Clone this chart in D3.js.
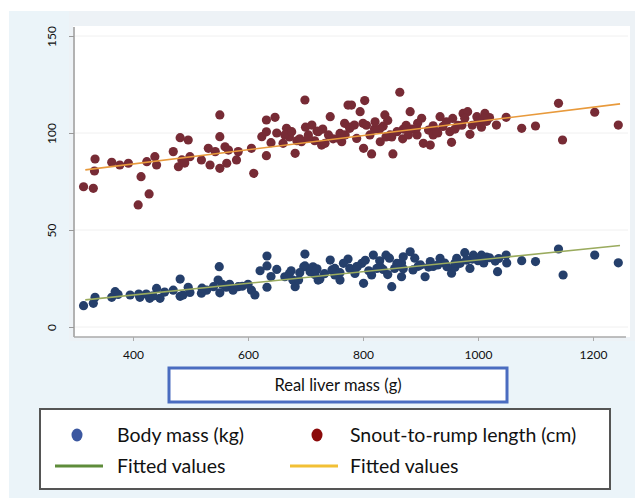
<html>
<head>
<meta charset="utf-8">
<script src="https://d3js.org/d3.v7.min.js"></script>
<style>
  body { margin:0; background:#fff; }
  text { font-family: Lato, "Open Sans", sans-serif; fill:#111; }
</style>
</head>
<body>
<svg id="chart" width="635" height="498"></svg>
<script>
// snout-to-rump length (cm) vs real liver mass (g)
var srlMass = [314,331,334,333,363,377,392,414,409,428,424,438,441,470,479,482,496,485,499,490,
  519,531,534,543,551,551,551,560,566,563,580,583,606,610,632,647,632,624,632,661,667,672,682,685,
  699,705,711,716,728,730,743,740,748,760,763,774,777,768,640,650,690,700,720,
  780,803,864,795,785,789,801,815,852,838,835,843,829,812,830,859,869,882,885,894,902,905,917,914,
  922,934,939,951,954,956,965,974,982,986,998,1006,1012,1015,1032,1049,1076,1100,1140,1147,1203,1244,
  800,820,850,875,895,930,960,990,1000,1020,922,840,870,
  664,676,693,705,722,734,757,769,777,806,821,847,879,893,928,945,972,977,1001,1009];
var srlLength = [72.3,71.5,86.6,80.4,84.9,83.5,84.4,77.5,62.9,68.6,85.2,87.8,83.5,90.4,82.6,97.6,96.4,86.1,87.8,84.5,
  86.1,92.1,83.5,90.4,109.3,98.1,81.8,92.9,91.2,84.4,86.1,90.4,92.1,79.2,106.7,108.1,88.3,98.1,100.6,94.7,102.4,98,89.5,96,
  117,99,104.1,96,93.8,102,108.4,99,97,99.8,95.5,114.4,103,105,95,100,97,103,101,
  114.4,116.7,121,111,104.1,97.2,92.1,89.2,89.2,109.3,103.5,106.5,102,99,95.5,100.7,97,111,102,99,107.6,94.7,93.8,101.5,
  103.7,108.4,103.4,100.7,95.2,107.5,104,110.1,111,99.3,108.4,103,110.1,106,104.1,108.1,102.4,103.6,115.3,96.4,110.7,104.1,
  105,102,98,104,105,100,102,104,106,108,99,98,102,
  99,100.7,95.5,97.3,100.7,94.7,97.3,99,102.4,104,105.8,99,99,102.4,100.7,105.8,104,107.6,105.8,107.6];

// body mass (kg) vs real liver mass (g)
var bmMass = [314,331,334,363,369,374,395,412,423,431,441,447,429,470,482,482,487,496,499,519,528,540,548,550,551,
  562,568,574,583,606,612,621,633,633,633,650,664,672,675,678,682,688,699,699,711,716,722,
  697,708,713,725,733,743,746,751,760,774,777,786,798,801,804,815,818,829,835,843,850,840,846,855,867,882,867,
  890,896,908,914,922,934,942,954,960,963,977,986,992,1000,1006,1015,1020,1034,1036,1049,1050,1076,1100,1140,1148,1203,1244,
  720,760,790,810,830,870,900,930,960,990,1010,1030,410,435,455,520,555,590,600,640,690,
  719,751,766,789,824,859,870,887,917,946,969,980,1009];
var bodyMass = [11,12.2,15.3,15.3,18.2,16.8,16.5,15.3,17,15.8,19.9,14.8,14.8,19,24.7,15.8,16.5,20.5,17.8,17.4,19,20.8,24.2,31.1,17.6,
  20.5,22,19,20.8,19,16.5,29,36.6,20.5,31.5,29.7,25.9,27.6,29,24.2,20.8,24.2,37.6,31.5,29,27,24.2,
  31,28.5,31,24.7,27.5,34.5,29.4,30.2,24.2,35,30.2,27.6,32.8,22.5,34.4,26.8,37.1,34.1,29.7,27,20.8,37,35.5,30.2,33,38.8,25.9,
  35.5,31.3,25.9,30.9,31.2,35.4,33,27.7,30.8,35.4,38.3,30.2,37,34.2,37,36,35.7,28.5,35.3,37.1,33,34.2,33.7,40.2,26.8,37.1,33.1,
  30,28,31,29,31,30,32,32,33,35,33,34,17,16,18,20,22,21,22,26,28,
  29.4,26.8,32.8,31.1,30.2,32.8,36.2,29.4,33.7,31.1,32.8,34.5,34.5];

// fitted values (line ends)
var fitMass = [317, 1247];
var fitLength = [81, 115];
var fitBody = [14, 42];

var xTicks = [400, 600, 800, 1000, 1200];
var yTicks = [0, 50, 100, 150];

var svg = d3.select("#chart");

// backgrounds
svg.append("rect").attr("x", 9).attr("y", 11).attr("width", 626).attr("height", 487).attr("fill", "#ebf4f9");
svg.append("rect").attr("x", 69).attr("y", 11).attr("width", 566).attr("height", 330).attr("fill", "#edf2f6");
svg.append("rect").attr("x", 73).attr("y", 26).attr("width", 557).attr("height", 311).attr("fill", "#fff");

var x = d3.scaleLinear().domain([400, 1200]).range([133, 593]);
var y = d3.scaleLinear().domain([0, 150]).range([327, 36]);

// grid
svg.selectAll("line.grid").data(yTicks).enter().append("line")
  .attr("class", "grid")
  .attr("x1", 75).attr("x2", 628)
  .attr("y1", function(d) { return y(d); }).attr("y2", function(d) { return y(d); })
  .attr("stroke", "#f0f0f0");

// axes
var yAxis = svg.append("g").attr("transform", "translate(74,0)")
  .call(d3.axisLeft(y).tickValues(yTicks).tickSize(5));
yAxis.select(".domain").remove();
yAxis.append("line").attr("x1", 0).attr("x2", 0).attr("y1", 27).attr("y2", 337)
  .attr("stroke", "#999").attr("stroke-width", 1.5);
yAxis.selectAll(".tick line").attr("stroke", "#999");
yAxis.selectAll(".tick text")
  .attr("x", 0).attr("dy", "0.35em")
  .attr("transform", "translate(-22,0) rotate(-90)")
  .attr("text-anchor", "middle")
  .style("font-size", "12px").style("font-family", "Lato, sans-serif").attr("fill", "#111");

var xAxis = svg.append("g").attr("transform", "translate(0,337)")
  .call(d3.axisBottom(x).tickValues(xTicks).tickSize(4).tickPadding(9).tickFormat(d3.format("d")));
xAxis.select(".domain").remove();
xAxis.append("line").attr("x1", 74).attr("x2", 626).attr("y1", 0).attr("y2", 0)
  .attr("stroke", "#aaa").attr("stroke-width", 1.5);
xAxis.selectAll(".tick line").attr("stroke", "#aaa");
xAxis.selectAll(".tick text")
  .style("font-size", "12px").style("font-family", "Lato, sans-serif").attr("fill", "#111");

// points
svg.append("g").selectAll("circle").data(srlMass).enter().append("circle")
  .attr("cx", function(d) { return x(d); })
  .attr("cy", function(d, i) { return y(srlLength[i]); })
  .attr("r", 4.6).attr("fill", "#772b35");

svg.append("g").selectAll("circle").data(bmMass).enter().append("circle")
  .attr("cx", function(d) { return x(d); })
  .attr("cy", function(d, i) { return y(bodyMass[i]); })
  .attr("r", 4.6).attr("fill", "#253f6b");

// fitted lines
var line = d3.line().x(function(d) { return x(d[0]); }).y(function(d) { return y(d[1]); });
svg.append("path").attr("d", line(d3.zip(fitMass, fitLength)))
  .attr("stroke", "#e89a3c").attr("stroke-width", 1.6).attr("fill", "none");
svg.append("path").attr("d", line(d3.zip(fitMass, fitBody)))
  .attr("stroke", "#9aab5e").attr("stroke-width", 1.6).attr("fill", "none");

// x axis title box
svg.append("rect").attr("x", 169).attr("y", 368).attr("width", 338).attr("height", 34)
  .attr("fill", "#fff").attr("stroke", "#4a6cc0").attr("stroke-width", 3);
svg.append("text").attr("x", 338).attr("y", 385).attr("dy", "0.35em")
  .attr("text-anchor", "middle").style("font-size", "16.5px").text("Real liver mass (g)");

// legend
svg.append("rect").attr("x", 40).attr("y", 409).attr("width", 570).attr("height", 80)
  .attr("fill", "#fff").attr("stroke", "#555").attr("stroke-width", 2);

var legend = svg.append("g").style("font-size", "19.5px");
legend.append("ellipse").attr("cx", 77).attr("cy", 435).attr("rx", 5.5).attr("ry", 6.5).attr("fill", "#3b57a0");
legend.append("text").attr("x", 117).attr("y", 435).attr("dy", "0.35em").text("Body mass (kg)");
legend.append("ellipse").attr("cx", 317).attr("cy", 435).attr("rx", 5.5).attr("ry", 6.5).attr("fill", "#8b0a0a");
legend.append("text").attr("x", 350).attr("y", 435).attr("dy", "0.35em").text("Snout-to-rump length (cm)");
legend.append("line").attr("x1", 55).attr("x2", 103).attr("y1", 466).attr("y2", 466).attr("stroke", "#5e8c3a").attr("stroke-width", 3);
legend.append("text").attr("x", 117).attr("y", 466).attr("dy", "0.35em").text("Fitted values");
legend.append("line").attr("x1", 290).attr("x2", 338).attr("y1", 466).attr("y2", 466).attr("stroke", "#f2c035").attr("stroke-width", 3);
legend.append("text").attr("x", 350).attr("y", 466).attr("dy", "0.35em").text("Fitted values");
</script>
</body>
</html>
